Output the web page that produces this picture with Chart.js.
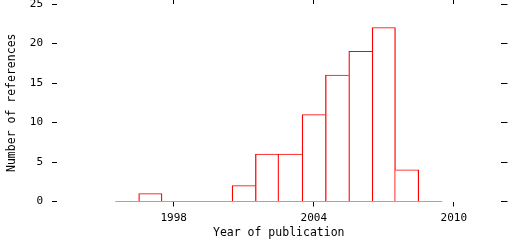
<!DOCTYPE html>
<html>
<head>
<meta charset="utf-8">
<script src="https://cdn.jsdelivr.net/npm/chart.js@4/dist/chart.umd.min.js"></script>
<style>
  html, body { margin: 0; padding: 0; background: #fff; }
  #wrap { width: 512px; height: 240px; }
</style>
</head>
<body>
<div id="wrap"><canvas id="hist"></canvas></div>
<script>
// histogram of references per publication year (1-year bins)
const YEARS  = [1996, 1997, 1998, 1999, 2000, 2001, 2002, 2003, 2004, 2005, 2006, 2007, 2008, 2009];
const COUNTS = [0, 1, 0, 0, 0, 2, 6, 6, 11, 16, 19, 22, 4, 0];
const X_TICKS = [1998, 2004, 2010];
const Y_TICKS = [0, 5, 10, 15, 20, 25];
const X_MIN = 1993, X_MAX = 2012;

const RED = '#ff0000';
const INK = '#000000';

Chart.defaults.font.family = '"DejaVu Sans Mono", monospace';
Chart.defaults.font.size = 11;
Chart.defaults.color = INK;

// only the taller bar of a shared edge draws it, so dividers stay thin
function edgeWidths(ctx) {
  const i = ctx.dataIndex;
  const v = COUNTS[i];
  const prev = i > 0 ? COUNTS[i - 1] : 0;
  const next = i < COUNTS.length - 1 ? COUNTS[i + 1] : 0;
  return { top: 1, bottom: 0, left: prev < v ? 1.3 : 0, right: next <= v ? 1.3 : 0 };
}

function fixedTicks(list) {
  return function (axis) { axis.ticks = list.map(function (v) { return { value: v }; }); };
}

function plain(v) { return String(v); }

// no extra room for half-height labels at the ends of the axes
function noPad(a) { a.paddingTop = 0; a.paddingBottom = 0; a.paddingLeft = 0; a.paddingRight = 0; }

const tickGrid = function (len) {
  return { offset: false, drawOnChartArea: false, drawTicks: true, tickLength: len, color: INK, lineWidth: 1 };
};

new Chart(document.getElementById('hist'), {
  type: 'bar',
  data: {
    datasets: [
      {
        type: 'line',
        data: [{ x: YEARS[0] - 0.5, y: 0 }, { x: YEARS[YEARS.length - 1] + 0.5, y: 0 }],
        borderColor: RED,
        borderWidth: 1,
        pointRadius: 0,
        xAxisID: 'x',
        yAxisID: 'y'
      },
      {
        data: YEARS.map(function (yr, i) { return { x: yr, y: COUNTS[i] }; }),
        backgroundColor: '#ffffff',
        borderColor: RED,
        borderWidth: edgeWidths,
        borderSkipped: false,
        barPercentage: 1,
        categoryPercentage: 1,
        xAxisID: 'x',
        yAxisID: 'y'
      }
    ]
  },
  options: {
    responsive: true,
    maintainAspectRatio: false,
    animation: false,
    layout: { padding: { left: 0, right: 4.5, top: 0, bottom: 0 } },
    plugins: { legend: { display: false }, tooltip: { enabled: false } },
    scales: {
      x: {
        type: 'linear', position: 'bottom', min: X_MIN, max: X_MAX, offset: false,
        afterBuildTicks: fixedTicks(X_TICKS),
        afterFit: function (a) { a.height = 38.5; noPad(a); },
        grid: tickGrid(5),
        border: { display: false },
        ticks: { padding: 5, maxRotation: 0, autoSkip: false, callback: plain, font: { size: 11 } },
        title: { display: true, text: 'Year of publication', font: { size: 11.5 }, padding: { top: 0, bottom: 0 } }
      },
      x2: {
        type: 'linear', position: 'top', min: X_MIN, max: X_MAX, offset: false,
        afterBuildTicks: fixedTicks(X_TICKS),
        afterFit: function (a) { a.height = 4; noPad(a); },
        grid: tickGrid(4),
        border: { display: false },
        ticks: { display: false }
      },
      y: {
        type: 'linear', position: 'left', min: 0, max: 25,
        afterBuildTicks: fixedTicks(Y_TICKS),
        afterFit: function (a) { a.width = 57; noPad(a); },
        grid: tickGrid(5),
        border: { display: false },
        ticks: { padding: 9, callback: plain, font: { size: 11 } },
        title: { display: true, text: 'Number of references', font: { size: 11.5 }, padding: { top: 5, bottom: 0 } }
      },
      y2: {
        type: 'linear', position: 'right', min: 0, max: 25,
        afterBuildTicks: fixedTicks(Y_TICKS),
        afterFit: function (a) { a.width = 7; noPad(a); },
        grid: tickGrid(7),
        border: { display: false },
        ticks: { display: false }
      }
    }
  }
});
</script>
</body>
</html>
